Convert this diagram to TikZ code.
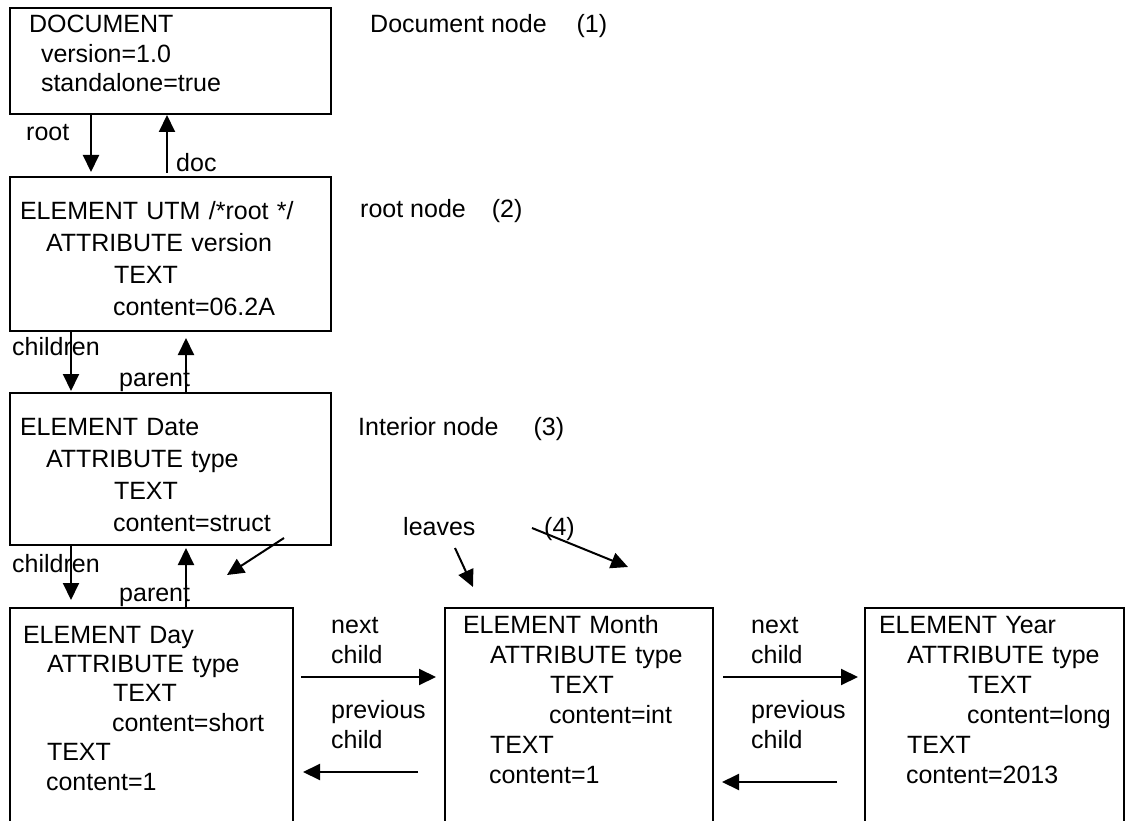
\documentclass[tikz,border=0pt]{standalone}
\usepackage{fontspec}
\setmainfont{Liberation Sans}
\usetikzlibrary{arrows.meta}

\begin{document}
\begin{tikzpicture}[
  x=1pt,
  y=-1pt,
  xmlbox/.style={draw,line width=2pt,anchor=north west,inner xsep=10pt,inner ysep=0pt,
    outer sep=0pt,align=left,font=\fontsize{25}{#1}\selectfont},
  note/.style={anchor=base west,inner sep=0pt,align=left,font=\fontsize{25}{30}\selectfont},
  link/.style={line width=2pt,-{Triangle[length=17pt,width=16pt]}}
]
  \useasboundingbox (0,0) rectangle (1125,821);
  \clip (0,0) rectangle (1125,821);

  % Tree boxes, top to bottom; the lowest row runs off the page.
  \node[xmlbox=29.5,text width=301pt,text height=25pt,text depth=81pt] (docbox) at (10,8)
    {\hspace*{9pt}DOCUMENT\\ \hspace*{21pt}version=1.0\\ \hspace*{21pt}standalone=true};
  \node[xmlbox=32,text width=301pt,text height=43pt,text depth=111pt] (utmbox) at (10,177)
    {ELEMENT UTM /*root */\\ \hspace*{26pt}ATTRIBUTE version\\ \hspace*{94pt}TEXT\\
     \hspace*{93pt}content=06.2A};
  \node[xmlbox=32,text width=301pt,text height=42pt,text depth=110pt] (datebox) at (10,393)
    {ELEMENT Date\\ \hspace*{26pt}ATTRIBUTE type\\ \hspace*{94pt}TEXT\\
     \hspace*{93pt}content=struct};
  \node[xmlbox=29.4,text width=263pt,text height=35pt,text depth=240pt] (daybox) at (10,608)
    {\hspace*{3pt}ELEMENT Day\\ \hspace*{27pt}ATTRIBUTE type\\ \hspace*{93pt}TEXT\\
     \hspace*{92pt}content=short\\ \hspace*{27pt}TEXT\\ \hspace*{26pt}content=1};
  \node[xmlbox=30,text width=248pt,text height=25pt,text depth=240pt] (monthbox) at (445,608)
    {\hspace*{8pt}ELEMENT Month\\ \hspace*{35pt}ATTRIBUTE type\\ \hspace*{95pt}TEXT\\
     \hspace*{94pt}content=int\\ \hspace*{35pt}TEXT\\ \hspace*{34pt}content=1};
  \node[xmlbox=30,text width=239pt,text height=25pt,text depth=240pt] (yearbox) at (865,608)
    {\hspace*{4pt}ELEMENT Year\\ \hspace*{32pt}ATTRIBUTE type\\ \hspace*{93pt}TEXT\\
     \hspace*{92pt}content=long\\ \hspace*{32pt}TEXT\\ \hspace*{31pt}content=2013};

  % Notes on the right.
  \node[note] (docnote) at (370,33) {Document node\hspace{30pt}(1)};
  \node[note] (rootnote) at (360,218) {root node\hspace{26pt}(2)};
  \node[note] (interiornote) at (358,435) {Interior node\hspace{35pt}(3)};
  \node[note] (leavesnote) at (403,535) {leaves};
  \node[note] (fournote) at (544,535) {(4)};

  % Link labels.
  \node[note] (rootlbl) at (26,141) {root};
  \node[note] (doclbl) at (176,172) {doc};
  \node[note] (childrenlblA) at (12,355) {children};
  \node[note] (parentlblA) at (119,386) {parent};
  \node[note] (childrenlblB) at (12,572) {children};
  \node[note] (parentlblB) at (119,601) {parent};
  \node[note,text width=100pt] (nextlblA) at (331,633) {next\\child};
  \node[note,text width=100pt] (prevlblA) at (331,718) {previous\\child};
  \node[note,text width=100pt] (nextlblB) at (751,633) {next\\child};
  \node[note,text width=100pt] (prevlblB) at (751,718) {previous\\child};

  % Vertical links between levels.
  \draw[link,shorten >=5pt] (docbox.south -| 91,0) -- (utmbox.north -| 91,0);
  \draw[link,shorten <=4pt,shorten >=1pt] (utmbox.north -| 167,0) -- (docbox.south -| 167,0);
  \draw[link,shorten >=2pt] (utmbox.south -| 71,0) -- (datebox.north -| 71,0);
  \draw[link,shorten >=7pt] (datebox.north -| 186,0) -- (utmbox.south -| 186,0);
  \draw[link,shorten >=8pt] (datebox.south -| 71,0) -- (daybox.north -| 71,0);
  \draw[link,shorten >=3pt] (daybox.north -| 186,0) -- (datebox.south -| 186,0);

  % Sibling links.
  \draw[link,shorten <=8pt,shorten >=9pt] (daybox.east |- 0,677) -- (monthbox.west |- 0,677);
  \draw[link,shorten <=27pt,shorten >=10pt] (monthbox.west |- 0,772) -- (daybox.east |- 0,772);
  \draw[link,shorten <=10pt,shorten >=7pt] (monthbox.east |- 0,677) -- (yearbox.west |- 0,677);
  \draw[link,shorten <=28pt,shorten >=9pt] (yearbox.west |- 0,782) -- (monthbox.east |- 0,782);

  % Pointers to the leaves.
  \coordinate (structfrom) at (284,538);
  \coordinate (structto) at (227,575);
  \coordinate (leavesfrom) at (455,548);
  \coordinate (leavesto) at (473,587);
  \coordinate (fourfrom) at (532,528);
  \coordinate (fourto) at (628,567);
  \draw[link] (structfrom) -- (structto);
  \draw[link] (leavesfrom) -- (leavesto);
  \draw[link] (fourfrom) -- (fourto);
\end{tikzpicture}
\end{document}
